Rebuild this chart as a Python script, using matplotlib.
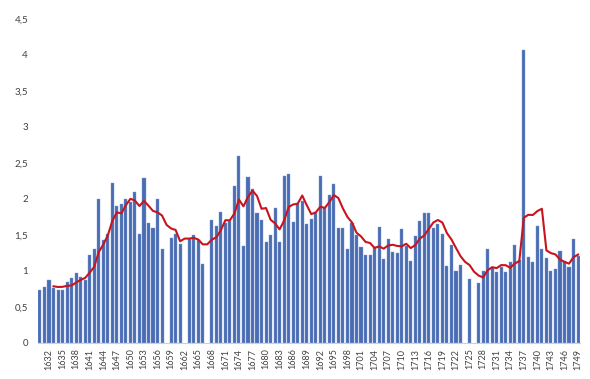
import numpy as np
import pandas as pd
import matplotlib
matplotlib.use("Agg")
import matplotlib.pyplot as plt

years = list(range(1630, 1750))
values = [
    0.73, 0.78, 0.88, 0.76, 0.74, 0.74, 0.85, 0.90, 0.97, 0.92,   # 1630-1639
    0.88, 1.22, 1.30, 2.00, 1.43, 1.52, 2.22, 1.90, 1.93, 2.00,   # 1640-1649
    1.96, 2.10, 1.52, 2.29, 1.66, 1.60, 2.00, 1.30, np.nan, 1.46, # 1650-1659
    1.52, 1.37, np.nan, 1.45, 1.50, 1.43, 1.10, np.nan, 1.71, 1.63, # 1660-1669
    1.82, 1.66, 1.70, 2.18, 2.60, 1.35, 2.31, 2.14, 1.81, 1.71,   # 1670-1679
    1.40, 1.50, 1.88, 1.40, 2.32, 2.34, 1.68, 1.93, 1.97, 1.65,   # 1680-1689
    1.72, 1.80, 2.32, 1.89, 2.05, 2.21, 1.59, 1.60, 1.30, 1.67,   # 1690-1699
    1.50, 1.33, 1.22, 1.22, 1.33, 1.61, 1.17, 1.44, 1.27, 1.25,   # 1700-1709
    1.58, 1.35, 1.14, 1.48, 1.70, 1.80, 1.80, 1.59, 1.65, 1.52,   # 1710-1719
    1.07, 1.36, 1.00, 1.08, np.nan, 0.89, np.nan, 0.84, 1.00, 1.31, # 1720-1729
    1.06, 0.99, 1.05, 0.99, 1.13, 1.36, 1.15, 4.07, 1.19, 1.12,   # 1730-1739
    1.63, 1.31, 1.18, 1.00, 1.03, 1.28, 1.14, 1.06, 1.45, 1.21,   # 1740-1749
]
ma_window = 5
ma_first_year = 1633
tick_years = list(range(1632, 1750, 3))
y_ticks = [0, 0.5, 1, 1.5, 2, 2.5, 3, 3.5, 4, 4.5]
y_labels = ["0", "0,5", "1", "1,5", "2", "2,5", "3", "3,5", "4", "4,5"]

s = pd.Series(values, index=years)
ma = s.rolling(ma_window, min_periods=1).mean()
ma[ma.index < ma_first_year] = np.nan

plt.rcParams['font.family'] = ['Lato', 'DejaVu Sans']
fig = plt.figure(figsize=(5.9, 3.79), dpi=100)
ax = fig.add_axes([0.0639, 0.095, 0.9197, 0.855])

ax.bar(years, values, width=0.68, color='#4a6cb3', edgecolor='#7f9bd0', linewidth=0.3, zorder=2)
ax.plot(ma.index, ma.values, color='#c8141e', lw=1.5, zorder=3)

ax.set_xlim(1629.5, 1749.5)
ax.set_ylim(0, 4.5)
ax.set_yticks(y_ticks)
ax.set_yticklabels(y_labels, fontsize=7, color='#404040')
ax.set_xticks(tick_years)
ax.set_xticklabels([str(y) for y in tick_years], rotation=90, fontsize=6.5, color='#404040')
ax.tick_params(axis='both', length=0, pad=4)
ax.tick_params(axis='y', pad=7)
for sp in ['top', 'right', 'left']:
    ax.spines[sp].set_visible(False)
ax.spines['bottom'].set_color('#d0d0d0')
ax.spines['bottom'].set_linewidth(0.8)

fig.savefig('out.png', dpi=100)
